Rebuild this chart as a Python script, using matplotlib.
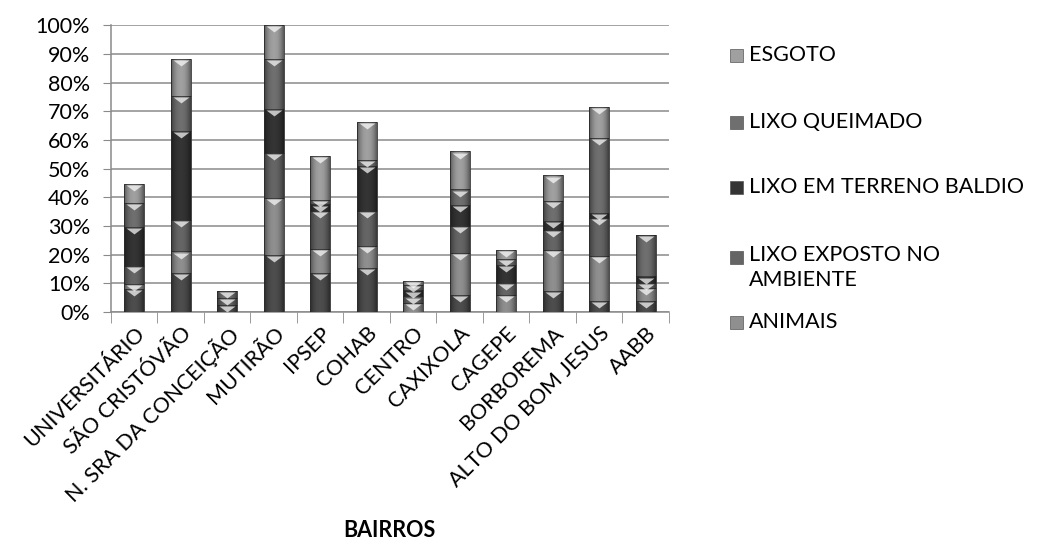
import numpy as np
import matplotlib
matplotlib.use("Agg")
import matplotlib.pyplot as plt
from matplotlib.patches import Rectangle
from matplotlib.path import Path
from matplotlib.ticker import PercentFormatter, MultipleLocator

# -----------------------------------------------
# Data (percent per bairro, stacked bottom -> top)
# -----------------------------------------------
bairros = ["UNIVERSITÁRIO", "SÃO CRISTÓVÃO", "N. SRA DA CONCEIÇÃO", "MUTIRÃO",
           "IPSEP", "COHAB", "CENTRO", "CAXIXOLA", "CAGEPE", "BORBOREMA",
           "ALTO DO BOM JESUS", "AABB"]

outros = [8.0, 13.6, 2.4, 20.0, 13.6, 15.3, 0.0, 6.0, 0.0, 7.2, 3.7, 3.7]
animais = [1.8, 7.5, 0.0, 19.8, 8.4, 7.6, 3.1, 14.6, 6.0, 14.5, 15.7, 4.7]
lixo_exposto = [6.3, 11.1, 2.4, 15.7, 13.1, 12.2, 2.3, 9.3, 4.1, 7.0, 13.4, 1.7]
lixo_baldio = [13.5, 30.8, 0.0, 15.3, 2.4, 15.7, 2.1, 7.5, 6.4, 2.9, 1.7, 2.3]
lixo_queimado = [8.4, 12.4, 2.4, 17.4, 1.7, 2.3, 2.0, 5.3, 2.0, 7.0, 26.2, 14.6]
esgoto = [6.6, 12.8, 0.0, 11.8, 15.1, 13.2, 1.4, 13.3, 3.2, 9.0, 10.8, 0.0]

series = [outros, animais, lixo_exposto, lixo_baldio, lixo_queimado, esgoto]
colors = ["#4d4d4d", "#8f8f8f", "#656565", "#343434", "#6f6f6f", "#a0a0a0"]

legend_labels = ["ESGOTO", "LIXO QUEIMADO", "LIXO EM TERRENO BALDIO",
                 "LIXO EXPOSTO NO\nAMBIENTE", "ANIMAIS"]
legend_colors = ["#a0a0a0", "#6f6f6f", "#343434", "#656565", "#8f8f8f"]

plt.rcParams['font.family'] = ['Lato', 'DejaVu Sans']
FS = 15.5

# -----------------------------------------------
# Figure
# -----------------------------------------------
fig = plt.figure(figsize=(10.42, 5.6), dpi=100)
ax = fig.add_axes([0.1065, 0.443, 0.5355, 0.512])

x = np.arange(len(bairros))
width = 0.43

# cylindrical shading overlay
grad = np.linspace(-1, 1, 64)
shade = np.zeros((1, 64, 4))
shade[0, :, 3] = 0.45 * np.abs(grad) ** 2.2

# flat downward triangle marking the top of each segment
tri = Path([(-1.0, 0.0), (1.0, 0.0), (0.0, -0.75), (-1.0, 0.0)],
           [Path.MOVETO, Path.LINETO, Path.LINETO, Path.CLOSEPOLY])

bottom = np.zeros(len(bairros))
for vals, col in zip(series, colors):
    vals = np.array(vals)
    bars = ax.bar(x, vals, width, bottom=bottom, color=col, edgecolor="#3a3a3a",
                  linewidth=0.6, zorder=3)
    for b in bars:
        if b.get_height() <= 0:
            continue
        im = ax.imshow(shade, extent=(b.get_x(), b.get_x() + b.get_width(),
                                      b.get_y(), b.get_y() + b.get_height()),
                       aspect="auto", zorder=4, interpolation="bilinear")
        im.set_clip_path(b)
    top = bottom + vals
    mask = vals > 0
    ax.scatter(x[mask], top[mask] - 0.4, marker=tri, s=130, color="white",
               alpha=0.7, linewidths=0, zorder=5)
    bottom = top

ax.set_xlim(-0.5, len(bairros) - 0.5)
ax.set_ylim(0, 100)
ax.yaxis.set_major_locator(MultipleLocator(10))
ax.yaxis.set_major_formatter(PercentFormatter(decimals=0))
ax.grid(axis="y", color="#8a8a8a", linewidth=1.1, zorder=0)

for s in ["top", "right"]:
    ax.spines[s].set_visible(False)
ax.spines["left"].set_color("#8a8a8a")
ax.spines["bottom"].set_color("#8a8a8a")
ax.spines["left"].set_linewidth(1.1)
ax.spines["bottom"].set_linewidth(1.1)

ax.tick_params(axis="y", labelsize=FS, length=6, color="#8a8a8a", pad=9)
ax.set_xticks(x)
ax.set_xticklabels(bairros, rotation=45, ha="right", rotation_mode="anchor",
                   fontsize=FS)
ax.tick_params(axis="x", length=0, pad=8)
ax.set_xticks(np.arange(-0.5, len(bairros)), minor=True)
ax.tick_params(axis="x", which="minor", length=8, color="#8a8a8a")

fig.text(0.374, 0.052, "BAIRROS", ha="center", va="center", fontsize=FS,
         fontweight="bold")

# -----------------------------------------------
# Legend (manual placement)
# -----------------------------------------------
legend_y = [0.902, 0.782, 0.666, 0.540, 0.425]
for lab, col, yy in zip(legend_labels, legend_colors, legend_y):
    fig.patches.append(Rectangle((0.7005, yy - 0.012), 0.0125, 0.023,
                                 transform=fig.transFigure, facecolor=col,
                                 edgecolor="#555555", linewidth=0.5))
    if "\n" in lab:
        fig.text(0.7185, yy + 0.022, lab, ha="left", va="top", fontsize=FS,
                 linespacing=1.3)
    else:
        fig.text(0.7185, yy, lab, ha="left", va="center", fontsize=FS)

fig.savefig("out.png", dpi=100)
